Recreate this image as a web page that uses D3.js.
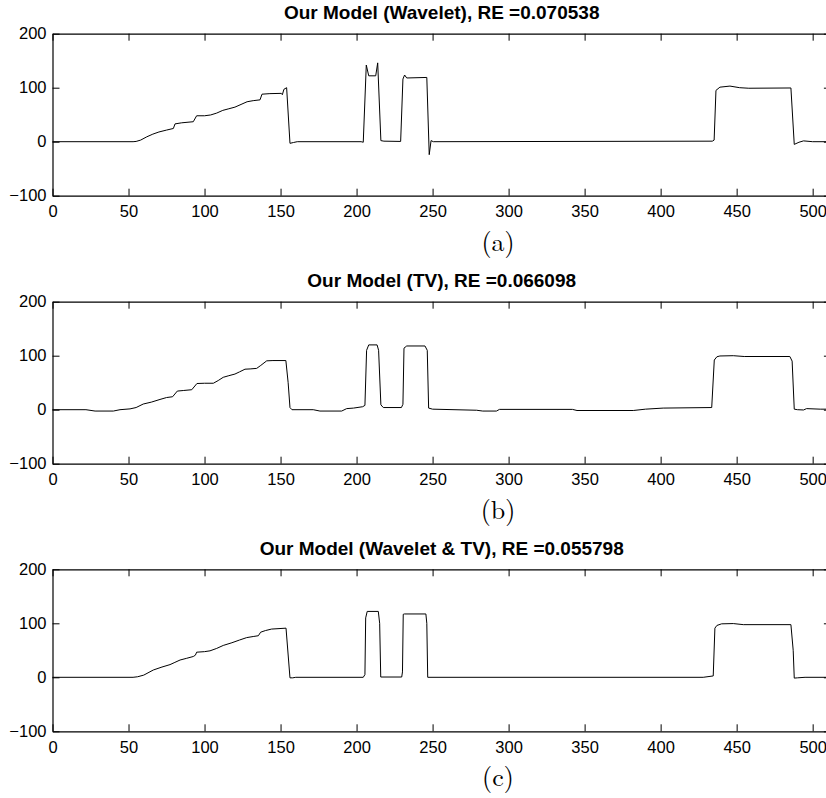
<!DOCTYPE html>
<html>
<head>
<meta charset="utf-8">
<script src="https://cdn.jsdelivr.net/npm/d3@7"></script>
<style>
  html, body { margin: 0; padding: 0; background: #fff; }
  svg { display: block; }
</style>
</head>
<body>
<svg id="chart" width="826" height="798"></svg>
<script>
// ---------- data ----------
const titles = [
  "Our Model (Wavelet), RE =0.070538",
  "Our Model (TV), RE =0.066098",
  "Our Model (Wavelet & TV), RE =0.055798"
];
const captions = ["(a)", "(b)", "(c)"];
const xTicks = [0, 50, 100, 150, 200, 250, 300, 350, 400, 450, 500];
const yTicks = [-100, 0, 100, 200];
const yTickLabels = ["\u2212100", "0", "100", "200"];
const xDomain = [0, 512];
const yDomain = [-100, 200];

// Panel (a): Wavelet
const xA = [0,53,55,58,62,66,70,75,79.5,80.6,85,92.6,94.8,100,104,108,112,116,120,124,128,132,136.5,137.8,143,150.5,151.2,152.2,154,156.2,158.5,161,203,204.4,206.4,208,212.6,213.9,216,218,229,230.5,231.6,233,246.2,247.8,249,250.5,434,435.2,436.4,439,445.6,452,458,485.7,487.9,491,494,500,512];
const yA = [0,0,0.5,3,9,14,18,21.5,24.5,33,35,37,48,48,49.5,53,58,61,64,69,74,76,77.5,88,89,89.5,87,97,100,-3,-1.5,0,0,-1,142,122,122,146,2,1,0.5,116,123.5,118,119,-24,2,0,1,3,95,101,103,100,99,99.5,-5,-1,1.5,0,0];

// Panel (b): TV
const xB = [0,22,28,40,44.4,51,55,59.7,65,70.7,75,79,82.1,86,91.6,95,100,105.8,109,112.3,116,120,123,126.6,130,134.3,137,140.9,145,153.5,155,156.2,157.5,171.5,175.9,190.2,193.5,198,204,205.5,206.6,208,213.5,214.5,216,217.6,229.5,230.5,231.2,233,245,246.5,247.4,250,279,283,292,294,342,345,382,390,401.7,433.6,435.3,437,439,447.8,455,485,486.5,487.9,490,494,496,505,512];
const yB = [0,0,-2.5,-2.5,0,1.5,4,10.5,14,19,22.5,24,34.5,35.5,37,48.5,49,49,54,60,63,66,70,75,75.5,76.5,82,90.5,91,91,50,4,0,0,-2.5,-2.5,2,3,5.5,8,110,120,120,110,9,4,4,10,114,118,118,110,3,1,-1,-2.5,-2.5,0.6,0.6,-1.5,-1.5,1,3,4,92,98,99.5,100,98.5,98.5,90,1,0,-0.5,2,1,1];

// Panel (c): Wavelet & TV
const xC = [0,53,56,60,66.3,72,77.3,80,83.9,88,92.6,94,94.8,100,103.6,108,112.3,118,123,127.7,132,135.4,136.9,140,144.1,153.6,156.2,158,160,204.4,205.5,206,207,214.3,215.2,215.9,229.7,230.2,230.7,231.5,245.6,246.2,246.8,428,434.6,435.7,437,440.1,447.8,454.4,485.7,487.2,487.9,490,495,512];
const yC = [0,0,1,4,13.5,19,23.5,27,32,35,38.5,41,46.5,47.5,49,53.5,59,64,69,73.5,75.5,77,83.5,86.5,89.3,91,-1,-1,0,0,5,110,122,122,100,0.5,0.5,10,116.7,117.3,117.3,100,0,0,2.5,91,96,99,99.5,97.5,97.5,50,-1.5,-1,0,0];

const panels = [
  { xs: xA, ys: yA },
  { xs: xB, ys: yB },
  { xs: xC, ys: yC }
];

// ---------- layout ----------
const svg = d3.select("#chart");
const left = 52.5, right = 830.9;
const tops = [33.7, 301.7, 569.3];
const plotH = 162;
const tickFont = "'Liberation Sans', Arial, Helvetica, sans-serif";

const x = d3.scaleLinear().domain(xDomain).range([left, right]);

panels.forEach((p, i) => {
  const top = tops[i], bottom = top + plotH;
  const y = d3.scaleLinear().domain(yDomain).range([bottom, top]);
  const g = svg.append("g");

  // signal line
  const pts = p.xs.map((v, k) => [v, p.ys[k]]);
  g.append("path")
    .datum(pts)
    .attr("fill", "none")
    .attr("stroke", "#000")
    .attr("stroke-width", 1)
    .attr("stroke-linejoin", "round")
    .attr("d", d3.line().x(d => x(d[0])).y(d => y(d[1])));

  // axes (box with inward ticks)
  const axB = g.append("g").attr("transform", `translate(0,${bottom})`)
    .call(d3.axisBottom(x).tickValues(xTicks).tickSize(-7).tickSizeOuter(0).tickPadding(10).tickFormat(d3.format("d")));
  const axT = g.append("g").attr("transform", `translate(0,${top})`)
    .call(d3.axisTop(x).tickValues(xTicks).tickSize(-7).tickSizeOuter(0).tickFormat(""));
  const axL = g.append("g").attr("transform", `translate(${left},0)`)
    .call(d3.axisLeft(y).tickValues(yTicks).tickSize(-7).tickSizeOuter(0).tickPadding(6)
      .tickFormat((d) => yTickLabels[yTicks.indexOf(d)]));
  const axR = g.append("g").attr("transform", `translate(${right},0)`)
    .call(d3.axisRight(y).tickValues(yTicks).tickSize(-7).tickSizeOuter(0).tickFormat(""));

  [axB, axT, axL, axR].forEach(a => {
    a.selectAll("path.domain").attr("stroke", "#000").attr("stroke-width", 1.2);
    a.selectAll(".tick line").attr("stroke", "#000").attr("stroke-width", 1);
    a.selectAll("text").attr("fill", "#000").style("font-family", tickFont).style("font-size", "16.5px");
  });

  // title
  g.append("text")
    .attr("x", (left + right) / 2)
    .attr("y", top - 14.5)
    .attr("text-anchor", "middle")
    .style("font-family", tickFont)
    .style("font-weight", "bold")
    .style("font-size", "19px")
    .text(titles[i]);

  // caption
  g.append("text")
    .attr("x", 498)
    .attr("y", bottom + 55)
    .attr("text-anchor", "middle")
    .style("font-family", "'Latin Modern Roman','CMU Serif','Liberation Serif','Times New Roman',serif")
    .style("font-size", "26px")
    .text(captions[i]);
});
</script>
</body>
</html>
